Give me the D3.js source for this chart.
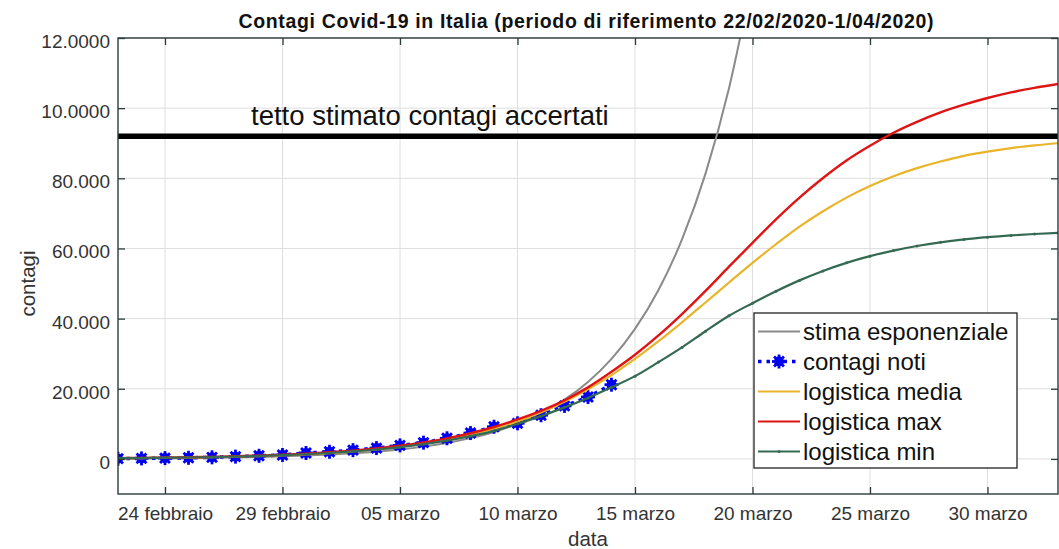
<!DOCTYPE html>
<html>
<head>
<meta charset="utf-8">
<script src="https://cdn.jsdelivr.net/npm/d3@7"></script>
<style>
    body { margin: 0; background: #fff; }
    svg { display: block; font-family: "Liberation Sans", Arial, Helvetica, sans-serif; }
</style>
</head>
<body>
<div id="chart"></div>
<script>
"use strict";

// giorno 0 = 22/02/2020, un valore per giorno
const contagiNoti = [79, 152, 229, 322, 453, 655, 888, 1128, 1694, 2036, 2502, 3089, 3858, 4636,
    5883, 7375, 9172, 10149, 12462, 15113, 17660, 21157];

const stimaEsponenziale = [116, 151, 196, 255, 332, 431, 560, 728, 946, 1230, 1598, 2077, 2699, 3507,
    4557, 5922, 7695, 10000, 12995, 16887, 21945, 28517, 37058, 48157, 62580, 81322, 105678, 137328];

const logisticaMedia = [188, 240, 306, 391, 499, 636, 811, 1032, 1315, 1674, 2128, 2702, 3425, 4331,
    5464, 6867, 8595, 10705, 13250, 16280, 19830, 23910, 28500, 33550, 38950, 44600, 50300, 55900,
    61200, 66200, 70600, 74500, 77800, 80600, 82900, 84800, 86400, 87600, 88600, 89400, 90000];

const logisticaMax = [230, 290, 370, 465, 590, 745, 940, 1185, 1495, 1885, 2370, 2980, 3740, 4690,
    5870, 7330, 9100, 11250, 13700, 16700, 20400, 24850, 29700, 35200, 41300, 47900, 54800, 61600,
    68300, 74500, 80100, 85100, 89300, 93000, 96100, 98800, 101000, 102900, 104500, 105800, 106900];

const logisticaMin = [200, 255, 325, 410, 520, 660, 835, 1055, 1335, 1690, 2130, 2680, 3360, 4200,
    5230, 6480, 8000, 10000, 12200, 14700, 17400, 20400, 23600, 27600, 31800, 36400, 40800, 44400,
    47800, 50900, 53600, 55900, 57800, 59400, 60700, 61750, 62570, 63210, 63720, 64120, 64430];

const tettoContagi = 92000;

const giorniTick = [2, 7, 12, 17, 22, 27, 32, 37];
const etichetteX = ["24 febbraio", "29 febbraio", "05 marzo", "10 marzo", "15 marzo", "20 marzo",
    "25 marzo", "30 marzo"];
const valoriTickY = [0, 20000, 40000, 60000, 80000, 100000, 120000];
const etichetteY = ["0", "20.000", "40.000", "60.000", "80.000", "10.0000", "12.0000"];

const serieLegenda = ["stima esponenziale", "contagi noti", "logistica media", "logistica max", "logistica min"];

(function () {
    const width = 1059;
    const height = 549;
    const margin = { top: 38, right: 1, bottom: 55, left: 118 };
    const innerW = width - margin.left - margin.right;
    const innerH = height - margin.top - margin.bottom;

    const axisColor = "#2c3b3b";
    const colors = {
        esp: "#8a8a8a",
        noti: "#0000f0",
        media: "#eab42a",
        max: "#dd1515",
        min: "#356a52"
    };

    const svg = d3.select("#chart")
        .append("svg")
        .attr("width", width)
        .attr("height", height);

    const x = d3.scaleLinear().domain([0, 40]).range([0, innerW]);
    const y = d3.scaleLinear().domain([-10000, 120000]).range([innerH, 0]);

    const g = svg.append("g")
        .attr("transform", `translate(${margin.left},${margin.top})`);

    // griglia
    g.append("g").selectAll("line")
        .data(giorniTick)
        .enter().append("line")
        .attr("x1", d => x(d)).attr("x2", d => x(d))
        .attr("y1", 0).attr("y2", innerH)
        .attr("stroke", "#dedede").attr("stroke-width", 1);

    g.append("g").selectAll("line")
        .data(valoriTickY)
        .enter().append("line")
        .attr("x1", 0).attr("x2", innerW)
        .attr("y1", d => y(d)).attr("y2", d => y(d))
        .attr("stroke", "#dedede").attr("stroke-width", 1);

    svg.append("clipPath").attr("id", "clip")
        .append("rect").attr("width", innerW).attr("height", innerH);

    const plot = g.append("g").attr("clip-path", "url(#clip)");

    const line = d3.line()
        .x((d, i) => x(i))
        .y(d => y(d))
        .curve(d3.curveMonotoneX);

    // tetto
    plot.append("line")
        .attr("x1", 0).attr("x2", innerW)
        .attr("y1", y(tettoContagi)).attr("y2", y(tettoContagi))
        .attr("stroke", "#000").attr("stroke-width", 5.5);

    g.append("text")
        .attr("x", 133).attr("y", 87)
        .attr("font-size", 27.5)
        .attr("fill", "#111")
        .text("tetto stimato contagi accertati");

    plot.append("path").datum(stimaEsponenziale)
        .attr("d", line).attr("fill", "none")
        .attr("stroke", colors.esp).attr("stroke-width", 2);

    function drawMarker(sel, cx, cy) {
        const m = sel.append("g").attr("transform", `translate(${cx},${cy})`);
        m.append("circle").attr("r", 5).attr("fill", colors.noti);
        for (let a of [0, 45, 90, 135]) {
            const r = a * Math.PI / 180;
            m.append("line")
                .attr("x1", -7 * Math.cos(r)).attr("y1", -7 * Math.sin(r))
                .attr("x2", 7 * Math.cos(r)).attr("y2", 7 * Math.sin(r))
                .attr("stroke", colors.noti).attr("stroke-width", 2.8);
        }
    }

    plot.append("path").datum(contagiNoti)
        .attr("d", d3.line().x((d, i) => x(i)).y(d => y(d)))
        .attr("fill", "none")
        .attr("stroke", colors.noti).attr("stroke-width", 3.5)
        .attr("stroke-dasharray", "3.5,5");

    const markers = plot.append("g");
    contagiNoti.forEach((d, i) => drawMarker(markers, x(i), y(d)));

    plot.append("path").datum(logisticaMedia)
        .attr("d", line).attr("fill", "none")
        .attr("stroke", colors.media).attr("stroke-width", 2.2);

    plot.append("path").datum(logisticaMax)
        .attr("d", line).attr("fill", "none")
        .attr("stroke", colors.max).attr("stroke-width", 2.4);

    plot.append("path").datum(logisticaMin)
        .attr("d", line).attr("fill", "none")
        .attr("stroke", colors.min).attr("stroke-width", 2.2);

    plot.append("g").selectAll("circle")
        .data(logisticaMin)
        .enter().append("circle")
        .attr("cx", (d, i) => x(i)).attr("cy", d => y(d))
        .attr("r", 1.5).attr("fill", colors.min);

    // assi
    const xAxis = d3.axisBottom(x)
        .tickValues(giorniTick)
        .tickFormat((d, i) => etichetteX[i])
        .tickSizeInner(-7).tickSizeOuter(0).tickPadding(12.5);

    const yAxis = d3.axisLeft(y)
        .tickValues(valoriTickY)
        .tickFormat((d, i) => etichetteY[i])
        .tickSizeInner(-7).tickSizeOuter(0).tickPadding(8);

    g.append("g")
        .attr("transform", `translate(0,${innerH})`)
        .call(xAxis);

    const gy = g.append("g").call(yAxis);

    g.append("g")
        .call(d3.axisTop(x).tickValues(giorniTick).tickFormat("").tickSizeInner(-7).tickSizeOuter(0));

    g.append("g")
        .attr("transform", `translate(${innerW},0)`)
        .call(d3.axisRight(y).tickValues(valoriTickY).tickFormat("").tickSizeInner(-7).tickSizeOuter(0));

    g.selectAll(".domain").attr("stroke", "none");
    g.selectAll(".tick line").attr("stroke", axisColor).attr("stroke-width", 1.3);
    g.selectAll(".tick text")
        .attr("font-family", "Liberation Sans, Arial, sans-serif")
        .attr("font-size", 19)
        .attr("fill", "#333");
    gy.selectAll(".tick text").attr("dy", "0.5em");

    g.append("rect")
        .attr("width", innerW).attr("height", innerH)
        .attr("fill", "none")
        .attr("stroke", axisColor).attr("stroke-width", 1.4);

    // etichette assi
    svg.append("text")
        .attr("x", margin.left + innerW / 2).attr("y", 546)
        .attr("text-anchor", "middle")
        .attr("font-size", 20.5).attr("fill", "#333")
        .text("data");

    svg.append("text")
        .attr("transform", `translate(35,${margin.top + y(50000)}) rotate(-90)`)
        .attr("text-anchor", "middle")
        .attr("font-size", 20.5).attr("fill", "#333")
        .text("contagi");

    svg.append("text")
        .attr("x", margin.left + innerW / 2 - 2).attr("y", 28)
        .attr("text-anchor", "middle")
        .attr("font-size", 19.5).attr("font-weight", "bold").attr("fill", "#111")
        .attr("textLength", 695).attr("lengthAdjust", "spacing")
        .text("Contagi Covid-19 in Italia (periodo di riferimento 22/02/2020-1/04/2020)");

    // legenda
    const leg = svg.append("g").attr("transform", "translate(754,313)");
    leg.append("rect")
        .attr("width", 263).attr("height", 155)
        .attr("fill", "#fff")
        .attr("stroke", "#222").attr("stroke-width", 1.3);

    const legColors = [colors.esp, colors.noti, colors.media, colors.max, colors.min];
    serieLegenda.forEach((name, i) => {
        const ly = 18.5 + i * 30;
        const row = leg.append("g");
        if (i === 1) {
            row.append("line")
                .attr("x1", 4).attr("x2", 46).attr("y1", ly).attr("y2", ly)
                .attr("stroke", legColors[i]).attr("stroke-width", 3.5)
                .attr("stroke-dasharray", "3.5,5");
            drawMarker(row, 25, ly);
        }
        else {
            row.append("line")
                .attr("x1", 4).attr("x2", 46).attr("y1", ly).attr("y2", ly)
                .attr("stroke", legColors[i]).attr("stroke-width", 2.2);
            if (i === 4) {
                row.append("circle").attr("cx", 25).attr("cy", ly).attr("r", 1.5).attr("fill", legColors[i]);
            }
        }
        row.append("text")
            .attr("x", 49).attr("y", ly + 8)
            .attr("font-size", 24).attr("fill", "#111")
            .text(name);
    });
})();
</script>
</body>
</html>
